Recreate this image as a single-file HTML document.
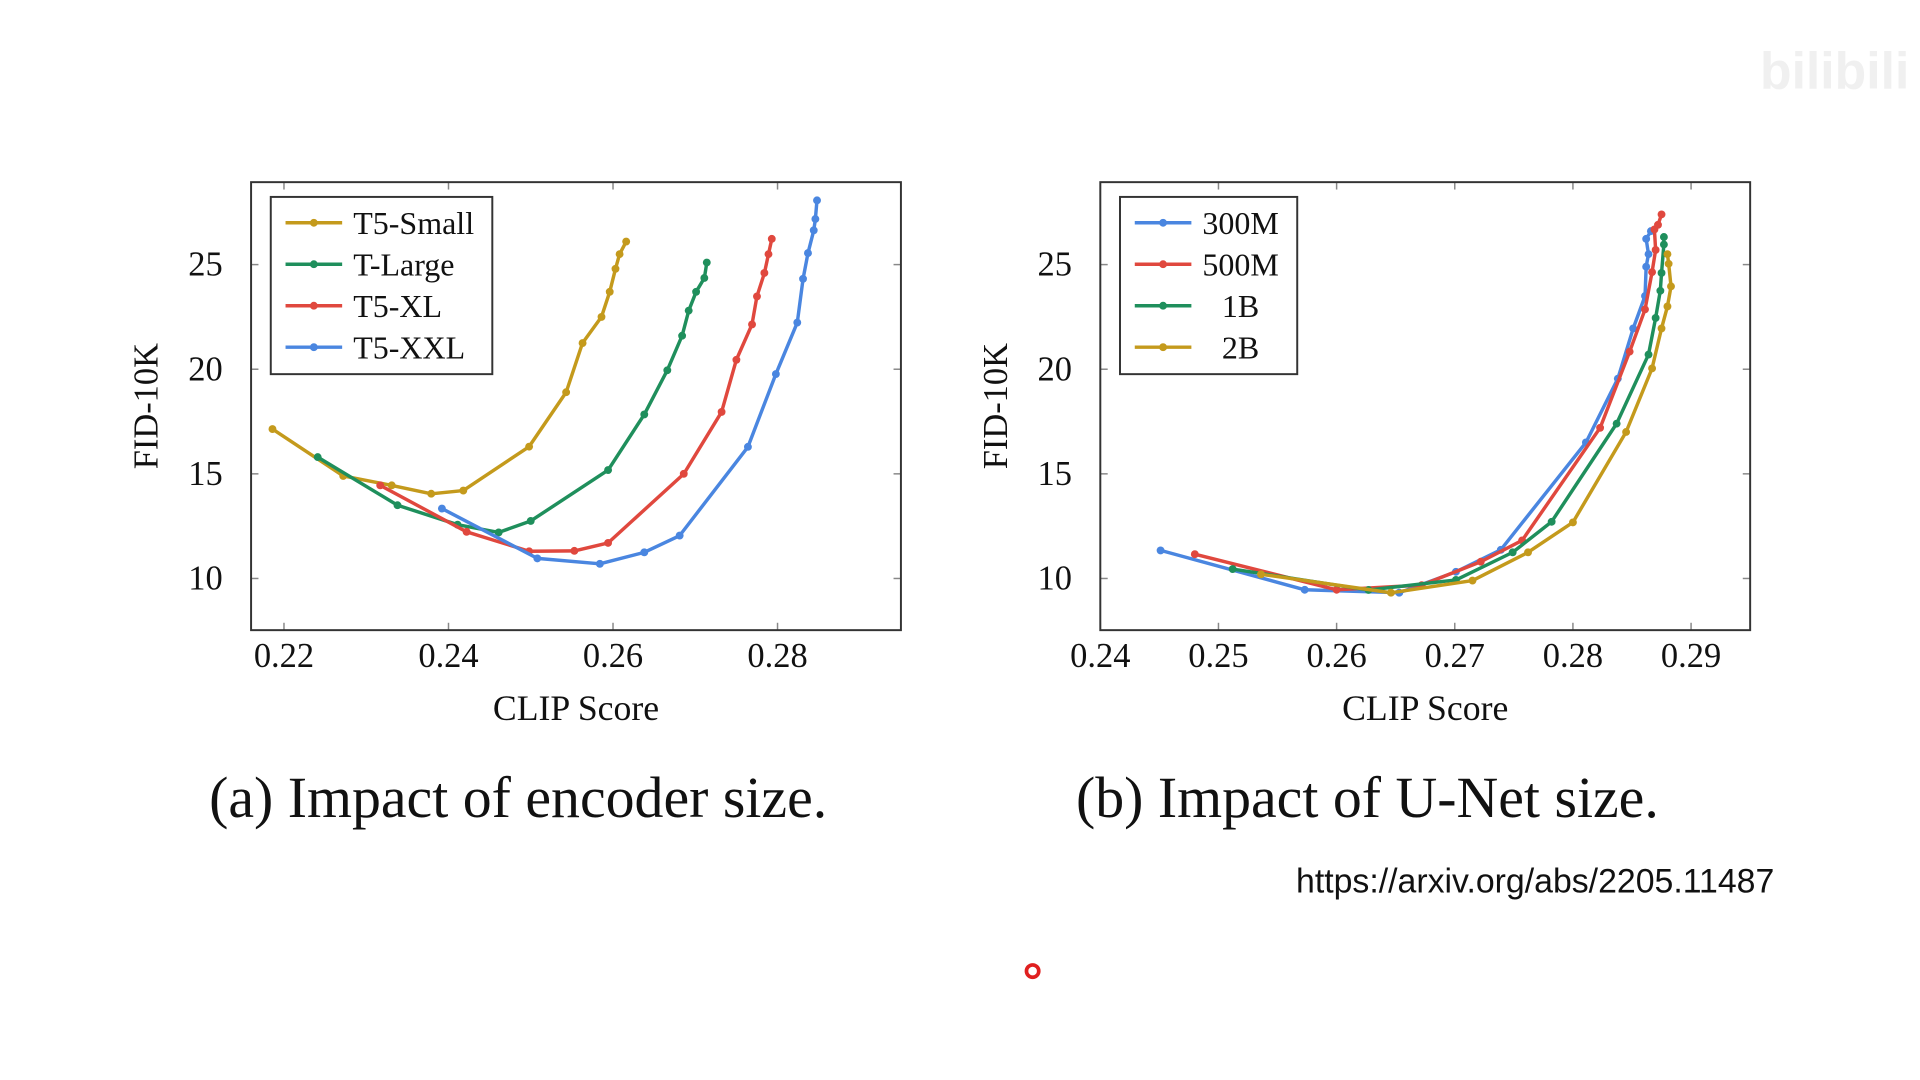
<!DOCTYPE html>
<html><head><meta charset="utf-8"><style>
html,body{margin:0;padding:0;background:#fff;}
svg{display:block;}
text{font-family:"Liberation Serif",serif;fill:#111;}
</style></head><body>
<svg id="fig" width="1920" height="1080" viewBox="0 0 1560 877.5" xmlns="http://www.w3.org/2000/svg">
<text x="1430" y="72" style="font-family:'Liberation Sans',sans-serif;font-size:42px;fill:#f0f0f0;font-weight:bold">bilibili</text>
<text x="421" y="664" text-anchor="middle" style="font-size:47px">(a) Impact of encoder size.</text>
<text x="1111" y="664" text-anchor="middle" style="font-size:47px">(b) Impact of U-Net size.</text>
<text x="1053" y="725" style="font-family:'Liberation Sans',sans-serif;font-size:27.5px">https://arxiv.org/abs/2205.11487</text>
<circle cx="839" cy="789" r="5" fill="none" stroke="#e02020" stroke-width="3"/>
<g id="plots"></g>
</svg>
<script>
const leftXTicks=[0.22,0.24,0.26,0.28];
const rightXTicks=[0.24,0.25,0.26,0.27,0.28,0.29];
const yTicks=[10,15,20,25];
const leftNames=["T5-Small","T-Large","T5-XL","T5-XXL"];
const rightNames=["300M","500M","1B","2B"];
const t5SmallX=[0.2186,0.2272,0.2331,0.2379,0.2418,0.2498,0.2543,0.2563,0.2586,0.2596,0.2603,0.2608,0.2616];
const t5SmallY=[17.14,14.9,14.45,14.05,14.2,16.3,18.9,21.25,22.5,23.7,24.8,25.5,26.1];
const tLargeX=[0.2241,0.2338,0.2411,0.2461,0.25,0.2594,0.2638,0.2666,0.2684,0.2692,0.2701,0.2711,0.2714];
const tLargeY=[15.8,13.5,12.57,12.2,12.75,15.18,17.84,19.95,21.6,22.8,23.7,24.36,25.1];
const t5XLX=[0.2317,0.2422,0.2498,0.2553,0.2594,0.2686,0.2732,0.275,0.2769,0.2775,0.2784,0.2789,0.2793];
const t5XLY=[14.45,12.23,11.3,11.32,11.7,15.0,17.96,20.45,22.14,23.48,24.6,25.5,26.23];
const t5XXLX=[0.2392,0.2508,0.2584,0.2638,0.2681,0.2764,0.2798,0.2824,0.2831,0.2837,0.2844,0.2846,0.2848];
const t5XXLY=[13.34,10.96,10.7,11.25,12.05,16.29,19.77,22.23,24.32,25.55,26.64,27.18,28.07];
const m300X=[0.2451,0.2573,0.2653,0.2701,0.2739,0.2811,0.2838,0.2851,0.2861,0.2862,0.2864,0.2862,0.2866];
const m300Y=[11.34,9.46,9.32,10.32,11.37,16.5,19.55,21.95,23.5,24.9,25.5,26.23,26.6];
const m500X=[0.248,0.26,0.2672,0.2722,0.2757,0.2823,0.2848,0.2861,0.2867,0.287,0.2869,0.2872,0.2875];
const m500Y=[11.16,9.46,9.68,10.8,11.82,17.2,20.84,22.86,24.64,25.7,26.68,26.9,27.4];
const b1X=[0.2512,0.2627,0.2701,0.2749,0.2782,0.2837,0.2864,0.287,0.2874,0.2875,0.2877,0.2877];
const b1Y=[10.45,9.45,9.93,11.25,12.71,17.4,20.7,22.45,23.75,24.6,25.96,26.32];
const b2X=[0.2536,0.2646,0.2715,0.2762,0.28,0.2845,0.2867,0.2875,0.288,0.2883,0.2881,0.288];
const b2Y=[10.2,9.32,9.9,11.25,12.68,17.0,20.04,21.95,23.0,23.96,25.04,25.5];

const colors=["#c49a1c","#1f8f5c","#e0483e","#4a86e0"];
const rcolors=["#4a86e0","#e0483e","#1f8f5c","#c49a1c"];
const NS="http://www.w3.org/2000/svg";
const root=document.getElementById('plots');
function mk(tag,attrs,parent){const e=document.createElementNS(NS,tag);for(const k in attrs)e.setAttribute(k,attrs[k]);(parent||root).appendChild(e);return e;}

function drawPlot(id,L,R,xmin,xmax,xticks,dec,series,names,cols,legendX,legendW,legendAnchor){
  const T=148,B=512,ymin=7.53,ymax=28.94;
  const sx=v=>L+(v-xmin)/(xmax-xmin)*(R-L);
  const sy=v=>B-(v-ymin)/(ymax-ymin)*(B-T);
  const g=mk('g',{});
  
  
  xticks.forEach(t=>{
    const x=sx(t);
    mk('line',{x1:x,x2:x,y1:B,y2:B-6,stroke:'#888','stroke-width':1.2},g);
    mk('line',{x1:x,x2:x,y1:T,y2:T+6,stroke:'#888','stroke-width':1.2},g);
    const tx=mk('text',{x:x,y:B+30,'text-anchor':'middle','font-size':28},g);
    tx.textContent=t.toFixed(dec);
    
    
  });
  yTicks.forEach(t=>{
    const y=sy(t);
    mk('line',{x1:L,x2:L+6,y1:y,y2:y,stroke:'#888','stroke-width':1.2},g);
    mk('line',{x1:R,x2:R-6,y1:y,y2:y,stroke:'#888','stroke-width':1.2},g);
    const tx=mk('text',{x:L-23,y:y+9,'text-anchor':'end','font-size':28},g);
    tx.textContent=t;
    
    
  });
  const fr=mk('rect',{x:L,y:T,width:R-L,height:B-T,fill:'none',stroke:'#333','stroke-width':1.6},g);
  
  
  series.forEach((s,i)=>{
    const pts=s[0].map((v,j)=>sx(v).toFixed(1)+','+sy(s[1][j]).toFixed(1)).join(' ');
    const pl=mk('polyline',{points:pts,fill:'none',stroke:cols[i],'stroke-width':2.8,'stroke-linejoin':'round'},g);
    
    
    s[0].forEach((v,j)=>{
      const c=mk('circle',{cx:sx(v),cy:sy(s[1][j]),r:3.2,fill:cols[i]},g);
      
      
    });
  });
  const xl=mk('text',{x:(L+R)/2,y:585,'text-anchor':'middle','font-size':29},g);
  xl.textContent='CLIP Score';
  
  
  const yl=mk('text',{x:0,y:0,'text-anchor':'middle','font-size':28,transform:`translate(${L-76},${(T+B)/2}) rotate(-90)`},g);
  yl.textContent='FID-10K';
  
  
  const lg=mk('g',{},g);
  
  
  mk('rect',{x:legendX,y:160,width:legendW,height:144,fill:'#fff',stroke:'#333','stroke-width':1.6},lg);
  names.forEach((n,i)=>{
    const y=181+i*33.7;
    const e=mk('g',{},lg);
    
    
    mk('line',{x1:legendX+12,x2:legendX+58,y1:y,y2:y,stroke:cols[i],'stroke-width':2.8},e);
    mk('circle',{cx:legendX+35,cy:y,r:3.2,fill:cols[i]},e);
    const t=legendAnchor==='start'?mk('text',{x:legendX+67,y:y+9,'font-size':26},e):mk('text',{x:legendX+98,y:y+9,'font-size':26,'text-anchor':'middle'},e);
    t.textContent=n;
  });
}
drawPlot('plot-encoder-size',204,732,0.216,0.295,leftXTicks,2,
  [[t5SmallX,t5SmallY],[tLargeX,tLargeY],[t5XLX,t5XLY],[t5XXLX,t5XXLY]],leftNames,colors,220,180,'start');
drawPlot('plot-unet-size',894,1422,0.24,0.295,rightXTicks,2,
  [[m300X,m300Y],[m500X,m500Y],[b1X,b1Y],[b2X,b2Y]],rightNames,rcolors,910,144,'middle');
</script>
</body></html>
